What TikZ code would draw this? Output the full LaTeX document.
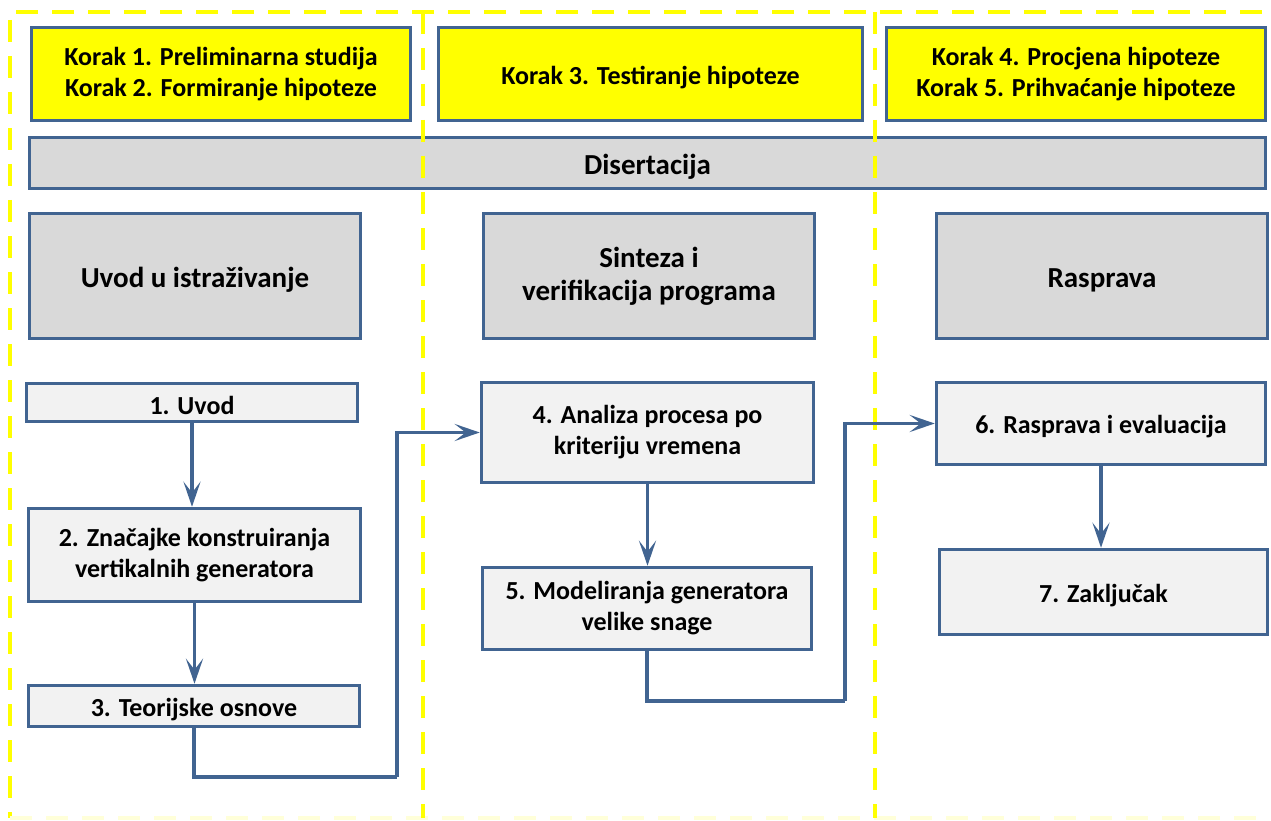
\documentclass[tikz,border=0pt]{standalone}
\usepackage{fontspec}
\setmainfont{Carlito}
\usetikzlibrary{arrows.meta,calc}
\definecolor{bcol}{RGB}{65,100,145}
\definecolor{ylw}{RGB}{255,255,0}
\definecolor{gdark}{RGB}{217,217,217}
\definecolor{glight}{RGB}{242,242,242}
\begin{document}
\begin{tikzpicture}[x=1pt,y=-1pt,
  box/.style={draw=bcol, line width=3.5pt, align=center, inner sep=0pt,
    font=\fontsize{26}{31}\selectfont\bfseries,
    execute at begin node={\rule{0pt}{0.95em}}},
  ybox/.style={box, fill=ylw},
  gbox/.style={box, fill=gdark, font=\fontsize{29}{33}\selectfont\bfseries},
  lbox/.style={box, fill=glight},
  arr/.style={draw=bcol, line width=3.5pt, -{Stealth[length=25pt,width=17pt,inset=11pt]}},
  conn/.style={draw=bcol, line width=3.5pt},
  ydash/.style={draw=ylw, line width=3.5pt, dash pattern=on 22pt off 14pt}]
\useasboundingbox (0,0) rectangle (1271,821);
\fill[white] (0,0) rectangle (1271,821);
% header boxes
\node[ybox, minimum width=379pt, minimum height=93pt] (y1) at (221,74) {Korak 1. Preliminarna studija\\Korak 2. Formiranje hipoteze};
\node[ybox, minimum width=424pt, minimum height=93pt] (y2) at (650.5,74) {Korak 3. Testiranje hipoteze};
\node[ybox, minimum width=379pt, minimum height=93pt] (y3) at (1076,74) {Korak 4. Procjena hipoteze\\Korak 5. Prihvaćanje hipoteze};
\node[gbox, minimum width=1236pt, minimum height=51pt] (dis) at (647.5,163) {Disertacija};
% chapter boxes
\node[gbox, minimum width=331pt, minimum height=125pt] (g1) at (195,276) {Uvod u istraživanje};
\node[gbox, minimum width=331pt, minimum height=125pt] (g2) at (649,276) {Sinteza i\\verifikacija programa};
\node[gbox, minimum width=331pt, minimum height=125pt] (g3) at (1102,276) {Rasprava};
% step boxes
\node[lbox, minimum width=331pt, minimum height=38pt] (b1) at (192,402.5) {1. Uvod};
\node[lbox, minimum width=332pt, minimum height=93pt] (b2) at (194.5,555) {2. Značajke konstruiranja\\vertikalnih generatora};
\node[lbox, minimum width=331pt, minimum height=41pt] (b3) at (194,706) {3. Teorijske osnove};
\node[lbox, minimum width=332pt, minimum height=100pt] (b4) at (647.5,432.5) {4. Analiza procesa po\\kriteriju vremena};
\node[lbox, minimum width=329pt, minimum height=82pt] (b5) at (647,608.5) {5. Modeliranja generatora\\velike snage};
\node[lbox, minimum width=329pt, minimum height=82pt] (b6) at (1101,423.5) {6. Rasprava i evaluacija};
\node[lbox, minimum width=328pt, minimum height=85pt] (b7) at (1103.5,592) {7. Zaključak};
% dashed yellow frame and dividers
\draw[ydash] (1262,12) -- (10,12) -- (10,818);
\draw[draw=ylw!15, line width=3.5pt, dash pattern=on 22pt off 14pt] (10,818) -- (1262,818);
\draw[ydash] (423,12) -- (423,818);
\draw[ydash] (875,12) -- (875,818);
% connectors
\coordinate (k1) at (397,777);
\coordinate (k2) at (845,701);
\draw[arr] (b1.south) -- (b1.south |- b2.north);
\draw[arr] (b2.south) -- (b2.south |- b3.north);
\draw[conn] (b3.south) |- (k1);
\draw[arr] (k1) |- (b4.west);
\draw[arr] (b4.south) -- (b4.south |- b5.north);
\draw[conn] (b5.south) |- (k2);
\draw[arr] (k2) |- (b6.west);
\draw[arr] (b6.south) -- (b6.south |- b7.north);
\end{tikzpicture}
\end{document}
